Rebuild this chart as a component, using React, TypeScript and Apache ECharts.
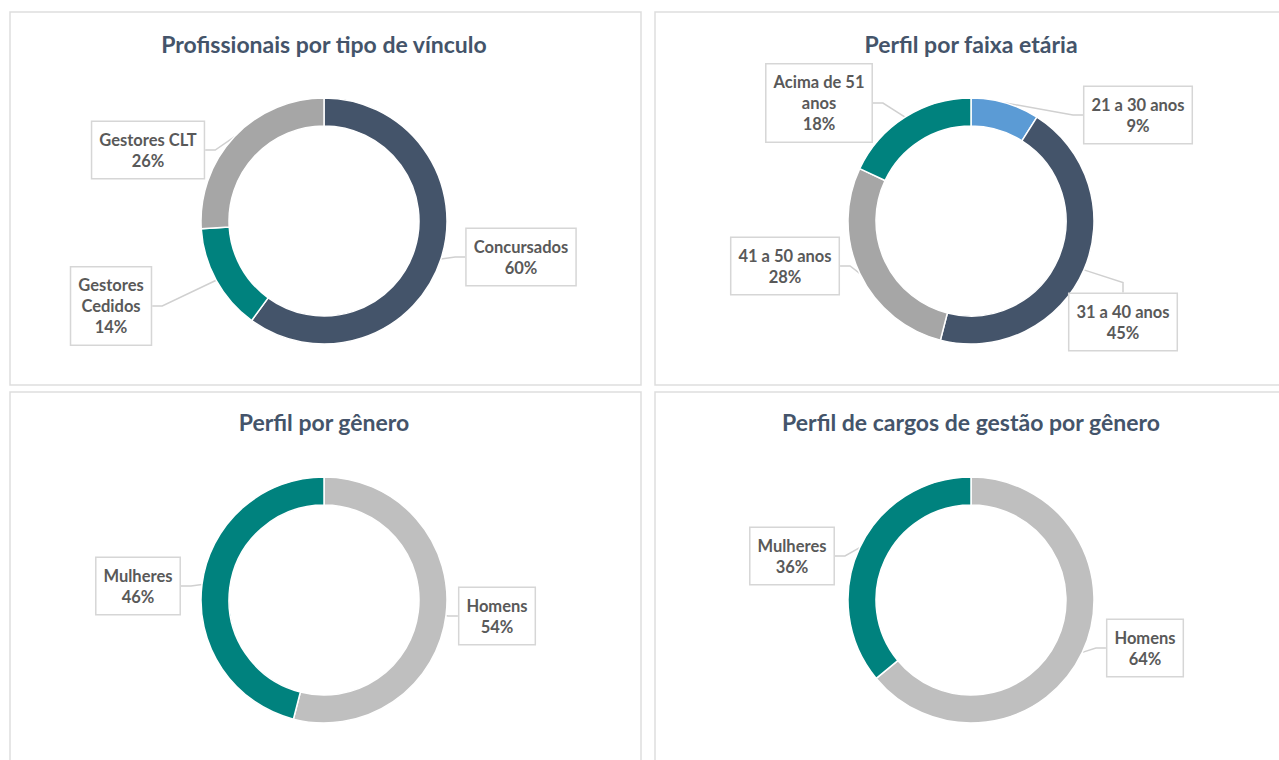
import React, { useEffect, useRef } from "react";
import * as echarts from "echarts";

// ---- Data ----
const vinculoCategories = ["Concursados", "Gestores Cedidos", "Gestores CLT"];
const vinculoValues = [60, 14, 26];

const faixaCategories = ["21 a 30 anos", "31 a 40 anos", "41 a 50 anos", "Acima de 51 anos"];
const faixaValues = [9, 45, 28, 18];

const generoCategories = ["Homens", "Mulheres"];
const generoValues = [54, 46];

const gestaoCategories = ["Homens", "Mulheres"];
const gestaoValues = [64, 36];

const titles = [
  "Profissionais por tipo de vínculo",
  "Perfil por faixa etária",
  "Perfil por gênero",
  "Perfil de cargos de gestão por gênero",
];

// ---- Styles / layout ----
const SLATE = "#44546a";
const TEAL = "#00827e";
const GRAY = "#a6a6a6";
const LIGHTGRAY = "#bfbfbf";
const BLUE = "#5b9bd5";
const FONT = "Lato, 'Open Sans', sans-serif";

const labelBreaks: Record<string, string> = {
  "Gestores Cedidos": "Gestores\nCedidos",
  "Acima de 51 anos": "Acima de 51\nanos",
};

const panels = [
  { x: 10, y: 12, w: 631, h: 373 },
  { x: 655, y: 12, w: 630, h: 373 },
  { x: 10, y: 392, w: 631, h: 375 },
  { x: 655, y: 392, w: 630, h: 375 },
];

const centers = [
  [324, 221],
  [971, 221],
  [324, 600],
  [971, 600],
];

const seriesColors = [
  [SLATE, TEAL, GRAY],
  [BLUE, SLATE, GRAY, TEAL],
  [LIGHTGRAY, TEAL],
  [LIGHTGRAY, TEAL],
];

// label box centres (px) per series, per data index
const labelCenters = [
  [
    [521, 257],
    [111, 306],
    [148, 150],
  ],
  [
    [1138, 115],
    [1123, 322],
    [785, 266],
    [819, 103],
  ],
  [
    [497, 616],
    [138, 586],
  ],
  [
    [1145, 648],
    [792, 556],
  ],
];

export default function App() {
  const ref = useRef<HTMLDivElement>(null);

  useEffect(() => {
    if (!ref.current) return;
    const chart = echarts.init(ref.current, null, { renderer: "svg" });

    const datasets = [
      { cats: vinculoCategories, vals: vinculoValues },
      { cats: faixaCategories, vals: faixaValues },
      { cats: generoCategories, vals: generoValues },
      { cats: gestaoCategories, vals: gestaoValues },
    ];

    const series = datasets.map((d, si) => ({
      type: "pie",
      center: centers[si],
      radius: [95, 123],
      startAngle: 90,
      clockwise: true,
      avoidLabelOverlap: false,
      color: seriesColors[si],
      itemStyle: { borderColor: "#ffffff", borderWidth: 1.5 },
      emphasis: { disabled: true },
      data: d.cats.map((c, i) => ({ name: c, value: d.vals[i] })),
      label: {
        show: true,
        position: "outside",
        formatter: (p: any) => `${labelBreaks[p.name] || p.name}\n${p.value}%`,
        fontFamily: FONT,
        fontWeight: "bold",
        fontSize: 16.5,
        lineHeight: 21,
        color: "#595959",
        align: "center",
        backgroundColor: "#ffffff",
        borderColor: "#d6d6d6",
        borderWidth: 1.5,
        padding: [8, 7, 6, 7],
      },
      labelLine: {
        show: true,
        length: 10,
        length2: 10,
        lineStyle: { color: "#d0d0d0", width: 1.5 },
      },
      labelLayout: (params: any) => {
        const pos = labelCenters[si][params.dataIndex];
        return {
          x: pos[0],
          y: pos[1],
          align: "center",
          verticalAlign: "middle",
        };
      },
    }));

    const option: any = {
      animation: false,
      backgroundColor: "#ffffff",
      title: titles.map((t, i) => ({
        text: t,
        left: centers[i][0] - 5,
        top: i < 2 ? 27 : 405,
        textAlign: "center",
        textStyle: {
          fontFamily: FONT,
          fontWeight: "bold",
          fontSize: 23,
          color: SLATE,
        },
      })),
      graphic: panels.map((p) => ({
        type: "rect",
        silent: true,
        z: -10,
        shape: { x: p.x, y: p.y, width: p.w, height: p.h },
        style: { fill: "#ffffff", stroke: "#dedede", lineWidth: 1.5 },
      })),
      series,
    };

    chart.setOption(option);
    return () => chart.dispose();
  }, []);

  return (
    <div
      ref={ref}
      style={{ position: "fixed", left: 0, top: 0, width: 1279, height: 760 }}
    />
  );
}
